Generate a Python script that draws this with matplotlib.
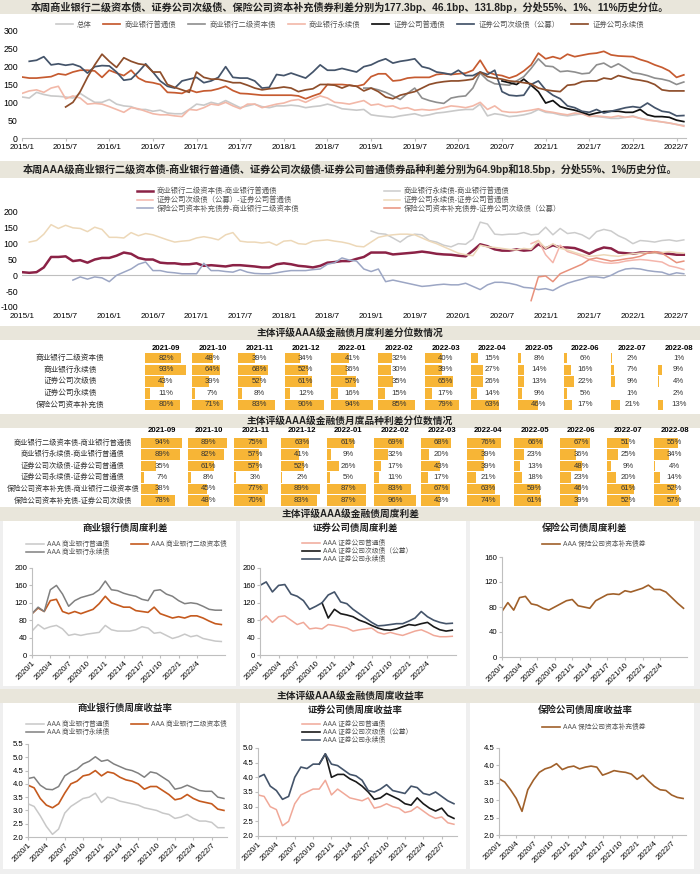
import numpy as np
import matplotlib
matplotlib.use("Agg")
import matplotlib.pyplot as plt
from matplotlib.patches import Rectangle

plt.rcParams['font.family'] = ['Liberation Sans', 'Noto Sans CJK SC']
plt.rcParams['axes.unicode_minus'] = False

W, H = 700, 874

# ---------------- data: monthly spreads 2015/1 - 2022/8 (bp) ----------------
total = [115, 112, 128, 122, 118, 117, 115, 112, 125, 112, 100, 100,
         108, 95, 90, 88, 80, 80, 75, 78, 70, 68, 68, 80,
         95, 92, 100, 95, 105, 95, 85, 90, 95, 88, 85, 90,
         90, 92, 90, 85, 88, 90, 95, 90, 82, 80, 78, 80,
         65, 62, 60, 58, 62, 65, 68, 62, 65, 70, 72, 75,
         78, 80, 80, 95, 62, 68, 65, 60, 62, 65, 70, 80,
         72, 70, 65, 62, 65, 68, 62, 60, 58, 55, 55, 58,
         62, 55, 52, 48, 45, 42, 38, 35]
bank_general = [171, 168, 168, 170, 172, 180, 177, 185, 190, 190, 188, 170,
                190, 182, 175, 190, 168, 158, 155, 150, 128, 127, 125, 135,
                128, 132, 133, 138, 145, 133, 125, 124, 122, 120, 120, 120,
                120, 120, 118, 110, 118, 125, 150, 150, 150, 148, 145, 150,
                172, 180, 180, 160, 162, 168, 170, 170, 170, 178, 180, 178,
                180, 182, 190, 218, 185, 178, 175, 168, 175, 188, 205, 238,
                222, 228, 222, 235, 228, 232, 236, 238, 243, 233, 230, 229,
                228, 220, 214, 205, 198, 188, 170, 177]
bank_tier2_start = 47
bank_tier2 = [140, 140, 135, 128, 118, 108, 125, 140, 112, 105, 100, 97, 112,
              116, 118, 140, 182, 162, 152, 150, 148, 160, 172, 195, 222,
              202, 200, 186, 188, 185, 180, 182, 205, 210, 198, 208, 196,
              183, 180, 175, 168, 165, 160, 150, 157]
bank_perp = [125, 132, 135, 128, 140, 145, 110, 118, 112, 95, 97, 95,
             88, 80, 72, 85, 82, 75, 68, 65, 65, 62, 60, 80,
             78, 85, 95, 92, 100, 90, 82, 95, 95, 85, 90, 95,
             98, 105, 108, 100, 110, 118, 112, 100, 98, 95, 100, 105,
             92, 95, 88, 90, 82, 85, 78, 80, 78, 80, 85, 90,
             88, 85, 90, 100, 80, 90, 75, 72, 72, 75, 78, 82,
             75, 72, 68, 65, 70, 68, 60, 62, 60, 58, 62, 58,
             60, 55, 50, 48, 45, 42, 38, 33]
sec_general_start = 66
sec_general = [160, 155, 150, 165, 148, 130,
               98, 105, 88, 82, 78, 72, 65, 70, 74, 75, 75, 72,
               72, 80, 65, 60, 60, 58, 50, 46]
sec_sub_start = 1
sec_sub = [215, 218, 228, 205, 208, 204, 207, 200, 182, 200, 203,
           202, 185, 162, 165, 185, 208, 185, 160, 145, 140, 160, 165,
           170, 155, 160, 170, 200, 170, 168, 168, 160, 140, 142, 178,
           175, 182, 175, 168, 185, 205, 190, 190, 195, 190, 185, 200,
           205, 215, 222, 210, 215, 218, 222, 200, 195, 185, 182, 178,
           190, 175, 175, 185, 178, 190, 130, 120, 118, 120, 150, 160,
           135, 120, 110, 90, 85, 75, 72, 80, 70, 75, 80, 85,
           88, 85, 98, 85, 75, 72, 62, 63]
sec_perp_start = 6
sec_perp = [87, 100, 130, 170, 205, 235,
            215, 198, 225, 215, 208, 205, 185, 185, 150, 142, 135, 128,
            185, 170, 165, 165, 160, 155, 155, 148, 140, 135, 138, 140,
            143, 140, 130, 135, 138, 150, 150, 148, 140, 148, 145, 132,
            140, 130, 115, 110, 120, 125, 130, 140, 150, 155, 158, 160,
            160, 162, 165, 185, 172, 168, 165, 160, 158, 155, 152, 140,
            135, 132, 130, 148, 150, 158, 160, 160, 168, 165, 175, 170,
            165, 162, 158, 150, 135, 132, 132, 132]

# ---------------- data: monthly variety spreads (bp) ----------------
sp_tier2_general = [10, 8, 10, 25, 58, 58, 60, 45, 48, 40, 50, 55,
                    55, 62, 72, 68, 55, 50, 50, 40, 38, 38, 35, 35,
                    38, 30, 32, 30, 28, 32, 32, 30, 28, 25, 25, 35,
                    38, 35, 30, 28, 25, 30, 40, 42, 45, 45, 52, 58,
                    72, 72, 72, 66, 68, 70, 72, 75, 72, 68, 66, 65,
                    62, 60, 78, 98, 92, 82, 78, 78, 82, 78, 80, 98,
                    85, 95, 88, 88, 86, 78, 68, 80, 88, 85, 72, 70,
                    68, 72, 72, 72, 70, 68, 65, 65]
sp_bankperp_start = 48
sp_bankperp_general = [140, 132, 130, 118, 105, 122, 130, 128, 110, 105, 95, 90,
                       100, 98, 115, 168, 162, 130, 128, 130, 130, 135, 128, 130,
                       152, 128, 148, 132, 135, 128, 115, 138, 145, 140, 125, 115,
                       100, 110, 108, 105, 110, 112, 108, 112]
sp_secsub_start = 70
sp_secsub_general = [100, 110, 65, 40, 95, 75, 68, 60, 50, 45, 40, 38, 40, 45,
                     48, 50, 48, 45, 42, 30, 25, 18.5]
sp_secperp_start = 1
sp_secperp_general = [105, 110, 130, 160, 148, 158, 150, 148, 138, 152, 145,
                      120, 120, 118, 135, 125, 132, 128, 120, 112, 105, 108, 110,
                      118, 122, 118, 112, 128, 135, 108, 105, 105, 102, 105, 95,
                      108, 110, 100, 98, 108, 110, 112, 108, 105, 100, 92, 90,
                      105, 120, 125, 128, 130, 130, 128, 118, 108, 100, 90, 80,
                      70, 65, 62, 95, 90, 88, 85, 82, 80, 85, 82, 110,
                      85, 100, 85, 80, 72, 65, 60, 62, 65, 62, 60, 65,
                      68, 70, 72, 70, 72, 75, 72, 70]
sp_insbank_start = 7
sp_ins_tier2 = [-15, -5, -12, -5, -8,
                -20, 0, 10, 20, 35, 42, 15, 15, 10, 8, 5, 5,
                5, 38, 15, 15, 12, 10, 18, 10, 6, 5, 5, 8,
                12, 15, 15, 15, 18, 20, 35, 40, 55, 48, 45, 20,
                12, 20, -20, -15, -20, -25, -30, -35, -33, -30, -28, -30,
                -30, -25, -35, -45, -30, -22, -22, -25, -30, -38, -40, -45,
                -42, -48, -35, -25, -18, -12, -5, -5, -8, 0, 12, 20,
                22, 20, 15, 12, 10, 2, 8, 5]
sp_inssec_start = 70
sp_ins_secsub = [-80, -5, -2, -20, 5, 15, 25, 35, 50, 55, 50, 45, 48, 52,
                 55, 60, 70, 75, 70, 55, 40, 45]

# ---------------- data: percentile tables ----------------
cols = ['2021-09', '2021-10', '2021-11', '2021-12', '2022-01', '2022-02',
        '2022-03', '2022-04', '2022-05', '2022-06', '2022-07', '2022-08']
t1_labels = ['商业银行二级资本债', '商业银行永续债', '证券公司次级债', '证券公司永续债', '保险公司资本补充债']
t1_data = [[82, 48, 39, 34, 41, 32, 40, 15, 8, 6, 2, 1],
           [93, 64, 68, 52, 36, 30, 39, 27, 14, 16, 7, 9],
           [43, 39, 52, 61, 57, 35, 65, 26, 13, 22, 9, 4],
           [11, 7, 8, 12, 16, 15, 17, 14, 9, 5, 1, 2],
           [80, 71, 83, 90, 94, 85, 79, 63, 46, 17, 21, 13]]
t2_labels = ['商业银行二级资本债-商业银行普通债', '商业银行永续债-商业银行普通债',
             '证券公司次级债-证券公司普通债', '证券公司永续债-证券公司普通债',
             '保险公司资本补充债-商业银行二级资本债', '保险公司资本补充债-证券公司次级债']
t2_data = [[94, 89, 75, 63, 61, 69, 68, 76, 66, 67, 51, 55],
           [89, 82, 57, 41, 9, 32, 20, 39, 23, 36, 25, 34],
           [35, 61, 57, 52, 26, 17, 43, 39, 13, 48, 9, 4],
           [7, 8, 3, 2, 5, 11, 17, 21, 18, 23, 20, 14],
           [38, 45, 77, 89, 87, 83, 67, 63, 59, 46, 61, 52],
           [78, 48, 70, 83, 87, 96, 43, 74, 61, 39, 52, 57]]

# ---------------- data: weekly charts, read monthly 2020/1 - 2022/8 ----------------
wk_bank_general = [55, 70, 60, 65, 68, 60, 45, 48, 45, 48, 50, 52,
                   68, 58, 55, 55, 55, 58, 65, 62, 50, 52, 45, 38,
                   42, 48, 42, 45, 38, 35, 32, 31]
wk_bank_tier2 = [95, 108, 100, 125, 128, 100, 95, 100, 95, 100, 105, 118,
                 135, 120, 115, 110, 110, 102, 100, 98, 110, 95, 90, 85,
                 88, 85, 90, 90, 85, 78, 72, 70]
wk_bank_perp = [95, 110, 100, 150, 160, 140, 112, 125, 132, 136, 140, 150,
                170, 150, 148, 142, 138, 135, 128, 125, 148, 150, 140, 135,
                125, 118, 120, 118, 112, 105, 103, 103]
wk_sec_general = [78, 90, 75, 88, 90, 80, 70, 75, 60, 62, 60, 70,
                  68, 65, 62, 55, 58, 60, 62, 52, 48, 52, 48, 45,
                  50, 55, 58, 52, 45, 42, 42, 43]
wk_sec_sub_start = 10
wk_sec_sub = [120, 85, 105, 95, 92, 88, 80, 75, 68, 62, 58, 57,
              60, 65, 70, 68, 72, 75, 65, 58, 55, 57]
wk_sec_perp = [160, 168, 145, 160, 162, 140, 135, 125, 105, 112, 120, 138,
               145, 122, 118, 105, 95, 85, 75, 67, 68, 70, 72, 72,
               78, 85, 100, 88, 80, 75, 72, 73]
wk_ins = [73, 87, 75, 95, 97, 85, 83, 78, 75, 80, 85, 90,
          92, 82, 80, 78, 90, 95, 100, 101, 100, 106, 104, 107,
          110, 115, 108, 108, 104, 95, 86, 78]

# yields (%), monthly 2020/1 - 2022/9
yd_bank_general = [3.25, 3.15, 2.8, 2.4, 2.1, 2.3, 2.9, 3.15, 3.3, 3.45, 3.5, 3.65,
                   3.3, 3.5, 3.45, 3.35, 3.3, 3.25, 3.2, 3.1, 3.05, 3.0, 2.9, 2.85,
                   2.7, 2.75, 2.85, 2.7, 2.6, 2.6, 2.55, 2.35, 2.35]
yd_bank_tier2 = [3.95, 3.85, 3.45, 3.2, 3.1, 3.25, 3.65, 4.0, 4.1, 4.3, 4.35, 4.5,
                 4.3, 4.45, 4.4, 4.25, 4.15, 4.1, 4.0, 3.8, 3.9, 3.9, 3.75, 3.6,
                 3.4, 3.45, 3.6, 3.45, 3.35, 3.3, 3.25, 3.05, 3.0]
yd_bank_perp = [4.2, 4.25, 3.95, 3.8, 3.78, 3.9, 4.3, 4.45, 4.55, 4.75, 4.85, 5.02,
                4.85, 4.9, 4.75, 4.65, 4.55, 4.5, 4.4, 4.25, 4.45, 4.4, 4.25, 4.1,
                3.8, 3.85, 3.95, 3.85, 3.75, 3.72, 3.72, 3.5, 3.45]
yd_sec_general = [3.4, 3.35, 3.0, 2.9, 2.35, 2.5, 3.1, 3.4, 3.5, 3.6, 3.6, 3.9,
                  3.4, 3.6, 3.45, 3.3, 3.25, 3.2, 3.3, 2.95, 3.0, 3.1, 3.0, 2.95,
                  2.8, 2.85, 3.0, 2.85, 2.7, 2.6, 2.65, 2.45, 2.4]
yd_sec_sub_start = 10
yd_sec_sub = [4.45, 4.8, 4.0, 4.1, 4.1, 3.95, 3.85, 3.7, 3.5, 3.25, 3.3, 3.45,
              3.35, 3.25, 3.1, 3.05, 3.3, 3.1, 2.95, 2.85, 2.95, 2.7, 2.6]
yd_sec_perp = [4.0, 4.1, 3.7, 3.55, 3.25, 3.35, 4.0, 4.35, 4.3, 4.45, 4.45, 4.8,
               4.45, 4.4, 4.25, 4.1, 4.05, 3.9, 3.55, 3.5, 3.6, 3.75, 3.55, 3.5,
               3.45, 3.7, 3.65, 3.45, 3.4, 3.5, 3.35, 3.2, 3.1]
yd_ins = [3.62, 3.52, 3.3, 3.05, 2.68, 3.3, 3.58, 3.8, 3.9, 3.95, 4.05, 3.88,
          3.95, 3.98, 3.9, 3.95, 3.98, 3.95, 3.72, 3.78, 3.85, 3.82, 3.8, 3.75,
          3.6, 3.72, 3.55, 3.4, 3.3, 3.28, 3.15, 3.08, 3.05]

# ---------------- styles ----------------
beige = '#E9E6DB'
panel_grey = '#EFEFEF'
bar_c = '#F7B536'
axis_c = '#BFBFBF'


def box(x0, y0, x1, y1):
    return [x0 / W, 1 - y1 / H, (x1 - x0) / W, (y1 - y0) / H]


def series(ax, start, vals, **kw):
    return ax.plot(np.arange(start, start + len(vals)), vals, **kw)[0]


fig = plt.figure(figsize=(W / 100, H / 100), dpi=100)
fig.patch.set_facecolor('white')

# background / tables axes in pixel coordinates
bg = fig.add_axes([0, 0, 1, 1], zorder=0)
bg.set_xlim(0, W)
bg.set_ylim(H, 0)
bg.axis('off')

bg.add_patch(Rectangle((0, 507), W, H - 507, color=panel_grey, lw=0))
for (px0, px1) in [(3, 236), (240, 466), (470, 694)]:
    bg.add_patch(Rectangle((px0, 521), px1 - px0, 165, color='white', lw=0))
    bg.add_patch(Rectangle((px0, 703), px1 - px0, 166, color='white', lw=0))


def header(y0, y1, text, fs=7.3):
    bg.add_patch(Rectangle((0, y0), W, y1 - y0, color=beige, lw=0))
    bg.text(W / 2, (y0 + y1) / 2, text, ha='center', va='center', fontsize=fs,
            fontweight='bold', color='#222222')


header(0, 14, '本周商业银行二级资本债、证券公司次级债、保险公司资本补充债券利差分别为177.3bp、46.1bp、131.8bp，分处55%、1%、11%历史分位。')
header(161, 178, '本周AAA级商业银行二级资本债-商业银行普通债、证券公司次级债-证券公司普通债券品种利差分别为64.9bp和18.5bp，分处55%、1%历史分位。')
header(326, 340, '主体评级AAA级金融债月度利差分位数情况', fs=7)
header(414, 428, '主体评级AAA级金融债月度品种利差分位数情况', fs=7)
header(507, 521, '主体评级AAA级金融债周度利差', fs=7)
header(689, 703, '主体评级AAA级金融债周度收益率', fs=7)


def draw_table(y_head, y0, dy, x_first, labels, data, label_x, label_fs):
    step = 46.6
    for j, c in enumerate(cols):
        bg.text(x_first + step * j, y_head, c, ha='center', va='center',
                fontsize=5.6, fontweight='bold')
    for i, (lab, row) in enumerate(zip(labels, data)):
        y = y0 + dy * i
        bg.text(label_x, y, lab, ha='center', va='center', fontsize=label_fs, color='#333333')
        for j, v in enumerate(row):
            cx = x_first + step * j
            bg.barh(y, v / 100 * 44, left=cx - 21, height=10.5, color=bar_c, lw=0)
            bg.text(cx, y, f'{v}%', ha='center', va='center', fontsize=5.6, color='#333333')


draw_table(348, 358, 11.75, 166, t1_labels, t1_data, 70, 5.5)
draw_table(431, 443, 11.5, 162, t2_labels, t2_data, 73, 5.2)

# ---------------- chart 1: spreads by type ----------------
months = [f'{2015 + m // 12}/{m % 12 + 1}' for m in range(0, 91, 6)]

ax1 = fig.add_axes(box(22, 31, 686, 138), zorder=2)
ax1.patch.set_alpha(0)
h = []
h.append(series(ax1, 0, total, color='#C9C9C9', lw=1.2, label='总体'))
h.append(series(ax1, 0, bank_general, color='#C65B30', lw=1.25, label='商业银行普通债'))
h.append(series(ax1, bank_tier2_start, bank_tier2, color='#8E8E8E', lw=1.2, label='商业银行二级资本债'))
h.append(series(ax1, 0, bank_perp, color='#F2B8A8', lw=1.2, label='商业银行永续债'))
h.append(series(ax1, sec_general_start, sec_general, color='#111111', lw=1.25, label='证券公司普通债'))
h.append(series(ax1, sec_sub_start, sec_sub, color='#44546A', lw=1.25, label='证券公司次级债（公募）'))
h.append(series(ax1, sec_perp_start, sec_perp, color='#8E4E2B', lw=1.25, label='证券公司永续债'))
ax1.set_xlim(0, 91.3)
ax1.set_ylim(0, 300)
ax1.set_yticks(range(0, 301, 50))
ax1.set_xticks(range(0, 91, 6))
ax1.set_xticklabels(months)
for s in ['top', 'right', 'left']:
    ax1.spines[s].set_visible(False)
ax1.spines['bottom'].set_color(axis_c)
ax1.tick_params(axis='y', length=0, labelsize=6.3, pad=3)
ax1.tick_params(axis='x', length=2, color=axis_c, labelsize=5.9, pad=2)
fig.legend(handles=h, loc='center', bbox_to_anchor=(0.5, 1 - 25 / H), ncol=7,
           frameon=False, fontsize=5.3, handlelength=2.3, columnspacing=1.6,
           handletextpad=0.6, labelcolor='#555555')

# ---------------- chart 2: variety spreads ----------------
ax2 = fig.add_axes(box(22, 212, 686, 307), zorder=2)
ax2.patch.set_alpha(0)
ax2.axhline(0, color=axis_c, lw=0.8)
g1 = series(ax2, 0, sp_tier2_general, color='#8B2246', lw=1.8, label='商业银行二级资本债-商业银行普通债')
g2 = series(ax2, sp_bankperp_start, sp_bankperp_general, color='#CCCCCC', lw=1.1, label='商业银行永续债-商业银行普通债')
g3 = series(ax2, sp_secsub_start, sp_secsub_general, color='#F4B5AB', lw=1.1, label='证券公司次级债（公募）-证券公司普通债')
g4 = series(ax2, sp_secperp_start, sp_secperp_general, color='#EDD8B8', lw=1.1, label='证券公司永续债-证券公司普通债')
g5 = series(ax2, sp_insbank_start, sp_ins_tier2, color='#9CA6C4', lw=1.1, label='保险公司资本补充债券-商业银行二级资本债')
g6 = series(ax2, sp_inssec_start, sp_ins_secsub, color='#E8917C', lw=1.1, label='保险公司资本补充债券-证券公司次级债（公募）')
ax2.set_xlim(0, 91.3)
ax2.set_ylim(-100, 200)
ax2.set_yticks(range(-100, 201, 50))
ax2.set_xticks(range(0, 91, 6))
ax2.set_xticklabels(months)
for s in ['top', 'right', 'left', 'bottom']:
    ax2.spines[s].set_visible(False)
ax2.tick_params(axis='y', length=0, labelsize=6.3, pad=3)
ax2.tick_params(axis='x', length=0, labelsize=5.9, pad=4)
fig.legend(handles=[g1, g3, g5, g2, g4, g6], loc='upper left',
           bbox_to_anchor=(130 / W, 1 - 181 / H), ncol=2, frameon=False,
           fontsize=5.3, handlelength=2.2, columnspacing=11.5, handletextpad=0.5,
           labelspacing=0.15, labelcolor='#555555')

# ---------------- small weekly charts ----------------
def small_axes(rect, ylim, yticks, nlab, xmax):
    ax = fig.add_axes(box(*rect), zorder=2)
    ax.patch.set_alpha(0)
    ax.set_xlim(0, xmax)
    ax.set_ylim(*ylim)
    ax.set_yticks(yticks)
    ticks = list(range(0, 3 * nlab, 3))
    ax.set_xticks(ticks)
    ax.set_xticklabels([f'{2020 + t // 12}/{t % 12 + 1}' for t in ticks],
                       rotation=45, ha='right', rotation_mode='anchor')
    for s in ['top', 'right']:
        ax.spines[s].set_visible(False)
    for s in ['left', 'bottom']:
        ax.spines[s].set_color(axis_c)
        ax.spines[s].set_linewidth(0.8)
    ax.tick_params(axis='both', length=2, color=axis_c, labelsize=5.6, pad=1.5)
    return ax


def small_title(x, y, text):
    bg.text(x, y, text, ha='center', va='center', fontsize=6.8, fontweight='bold', color='#222222')


def small_legend(ax, handles, x, y, ncol=1, colsp=1.0):
    ax.legend(handles=handles, loc='upper left', bbox_to_anchor=(x / W, 1 - y / H),
              bbox_transform=fig.transFigure, ncol=ncol, frameon=False, fontsize=4.9,
              handlelength=2.6, handletextpad=0.4, labelspacing=0.15,
              columnspacing=colsp, labelcolor='#555555')


# row 1: spreads
a = small_axes((32, 568, 225, 655), (0, 200), range(0, 201, 40), 10, 31.6)
l1 = series(a, 0, wk_bank_general, color='#C8C8C8', lw=1.1, label='AAA 商业银行普通债')
l2 = series(a, 0, wk_bank_tier2, color='#C55A1E', lw=1.2, label='AAA 商业银行二级资本债')
l3 = series(a, 0, wk_bank_perp, color='#808080', lw=1.1, label='AAA 商业银行永续债')
small_title(125, 528, '商业银行债周度利差')
small_legend(a, [l1, l3, l2], 20, 535, ncol=2, colsp=3.2)

a = small_axes((260, 568, 456, 655), (0, 200), range(0, 201, 40), 10, 31.6)
l1 = series(a, 0, wk_sec_general, color='#F0A898', lw=1.1, label='AAA 证券公司普通债')
l2 = series(a, wk_sec_sub_start, wk_sec_sub, color='#1A1A1A', lw=1.2, label='AAA 证券公司次级债（公募）')
l3 = series(a, 0, wk_sec_perp, color='#44546A', lw=1.2, label='AAA 证券公司永续债')
small_title(355, 528, '证券公司债周度利差')
small_legend(a, [l1, l2, l3], 296, 534)

a = small_axes((502, 557, 687, 657), (0, 160), range(0, 161, 40), 10, 31.6)
l1 = series(a, 0, wk_ins, color='#A0602A', lw=1.2, label='AAA 保险公司资本补充债券')
small_title(585, 528, '保险公司债周度利差')
small_legend(a, [l1], 536, 535)

# row 2: yields
fmt = matplotlib.ticker.FormatStrFormatter('%.1f')
a = small_axes((28, 744, 227, 837), (2.0, 5.5), np.arange(2.0, 5.51, 0.5), 11, 32.5)
l1 = series(a, 0, yd_bank_general, color='#C8C8C8', lw=1.1, label='AAA 商业银行普通债')
l2 = series(a, 0, yd_bank_tier2, color='#C55A1E', lw=1.2, label='AAA 商业银行二级资本债')
l3 = series(a, 0, yd_bank_perp, color='#808080', lw=1.1, label='AAA 商业银行永续债')
a.yaxis.set_major_formatter(fmt)
small_title(125, 708, '商业银行债周度收益率')
small_legend(a, [l1, l3, l2], 20, 715, ncol=2, colsp=3.2)

a = small_axes((258, 748, 457, 836), (2.0, 5.0), np.arange(2.0, 5.01, 0.5), 11, 32.5)
l1 = series(a, 0, yd_sec_general, color='#F0A898', lw=1.1, label='AAA 证券公司普通债')
l2 = series(a, yd_sec_sub_start, yd_sec_sub, color='#1A1A1A', lw=1.2, label='AAA 证券公司次级债（公募）')
l3 = series(a, 0, yd_sec_perp, color='#44546A', lw=1.2, label='AAA 证券公司永续债')
a.yaxis.set_major_formatter(fmt)
small_title(355, 710, '证券公司债周度收益率')
small_legend(a, [l1, l2, l3], 296, 715)

a = small_axes((499, 748, 686, 835), (2.0, 4.5), np.arange(2.0, 4.51, 0.5), 11, 32.5)
l1 = series(a, 0, yd_ins, color='#A0602A', lw=1.2, label='AAA 保险公司资本补充债券')
a.yaxis.set_major_formatter(fmt)
small_title(585, 710, '保险公司债周度收益率')
small_legend(a, [l1], 536, 718)

fig.savefig('out.png', dpi=100)
